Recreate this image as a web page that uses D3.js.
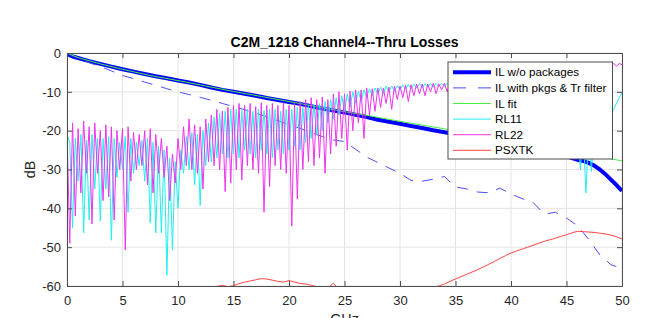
<!DOCTYPE html>
<html>
<head>
<meta charset="utf-8">
<script src="https://cdn.jsdelivr.net/npm/d3@7/dist/d3.min.js"></script>
<style>
body { margin: 0; background: #fff; }
svg { font-family: "Liberation Sans", Arial, Helvetica, sans-serif; }
</style>
</head>
<body>
<svg id="canvas" width="646" height="318"></svg>
<script>
// axis ticks
var xTicks = [0, 5, 10, 15, 20, 25, 30, 35, 40, 45, 50];
var yTicks = [-60, -50, -40, -30, -20, -10, 0];

// IL w/o packages (thick blue)
var ilFreq = [0, 0.25, 0.5, 1, 1.5, 2, 3, 4, 5, 6, 7, 8, 9, 10, 11, 12, 13, 14, 15, 16, 17, 18, 19, 20,
  21, 22, 23, 24, 25, 26, 27, 28, 29, 30, 31, 32, 33, 34, 35, 36, 37, 38, 39, 40, 41, 42, 43, 44, 45,
  46, 46.5, 47, 47.5, 48, 48.5, 49, 49.5, 50];
var ilVal = [0, -0.6, -0.9, -1.3, -1.7, -2.1, -2.8, -3.5, -4.2, -4.8, -5.4, -6.0, -6.5, -7.1, -7.6, -8.2, -8.9, -9.5, -10.0, -10.5, -11.0, -11.6, -12.1, -12.6,
  -13.1, -13.7, -14.3, -14.8, -15.3, -15.9, -16.5, -17.2, -17.7, -18.2, -18.8, -19.3, -19.9, -20.4, -20.9, -21.4, -21.9, -22.5, -23.0, -23.5, -24.1, -24.7, -25.3, -25.9, -26.6,
  -27.5, -27.8, -28.3, -29.0, -30.0, -31.2, -32.6, -34.0, -35.5];

// IL with pkgs & Tr filter (dashed)
var pkgFreq = [0, 0.5, 1, 1.5, 2, 3, 4, 5, 6, 7, 8, 9, 10, 11, 12, 13, 14, 15, 16, 17, 18, 19, 20, 21, 22, 23, 23.5,
  24, 25, 26, 27, 28, 29, 30, 31, 32, 33, 34, 35, 36, 37, 38, 39, 40, 41, 42, 43, 44, 45, 46, 47, 48, 49, 50];
var pkgVal = [0, -0.7, -1.3, -1.9, -2.5, -3.5, -4.6, -5.8, -6.6, -7.5, -8.3, -9.2, -10, -10.7, -11.4, -12.2, -13.0, -13.8, -14.6, -15.5, -16.4, -17.4, -18.5, -19.4, -20.5, -21.5, -22,
  -22.4, -22.8, -24.8, -26.8, -28.2, -29.6, -31, -32.8, -33, -32.5, -31.8, -34.5, -35, -35.8, -36, -34.8, -36.3, -37.5, -38.5, -41.5, -41, -42.5, -44.5, -48, -52, -54.5, -55.5];

// IL fit (green)
var fitFreq = [0, 1, 2, 3, 5, 7.5, 10, 12.5, 15, 17.5, 20, 22.5, 25, 27.5, 30, 32.5, 35, 37.5, 40, 42.5, 45, 47.5, 50];
var fitVal = [0, -1.2, -2.0, -2.8, -4.2, -5.8, -7.1, -8.5, -9.9, -11.2, -12.5, -13.8, -15.1, -16.3, -17.6, -18.8, -20.0, -21.2, -22.4, -23.6, -25.0, -26.4, -27.8];

// return losses, sampled every 0.25 GHz
var rlFreq = d3.range(0, 50.001, 0.25);
var rl11 = [
  -21, -23, -45, -22, -33, -21, -46.3, -22.5, -43, -21, -35, -22, -43.3, -22, -35, -21.5, -48.2, -22, -32, -23,
  -30, -21.5, -41, -22, -31, -23, -29, -22.5, -33, -22, -43.8, -23, -46.3, -24, -46.3, -25, -57.2, -27, -50.7, -28,
  -40, -25, -31, -21.5, -30, -20.5, -34, -21, -39.3, -20, -29, -18, -28, -16.5, -27, -15.5, -26, -15, -27, -14.5,
  -26, -14.5, -27, -14.8, -25, -14.5, -26, -15, -27, -14.5, -25, -14.8, -26, -14.5, -27, -14.5, -25, -15, -26, -14.5,
  -25, -14.5, -24, -14, -25, -14, -23, -13.5, -22, -13.5, -21, -13, -20, -12.5, -18, -12, -17, -11.5, -16, -11,
  -15, -10.5, -14, -10, -13, -9.8, -12.5, -9.5, -11.5, -9.2, -11, -9, -10.5, -8.8, -10.5, -8.6, -10, -8.5, -9.8, -8.4,
  -9.5, -8.2, -9.3, -8.1, -9.2, -8, -9, -7.9, -9, -7.9, -8.8, -7.8, -8.8, -7.8, -8.6, -7.8, -8.6, -7.8, -8.5, -7.8,
  -8.5, -7.8, -8.6, -7.9, -8.7, -8, -8.8, -8.1, -9, -8.2, -9.2, -8.4, -9.4, -8.6, -9.6, -8.8, -9.8, -9, -10, -9.2,
  -10.3, -9.5, -10.6, -9.8, -11, -10, -11.3, -10.3, -11.6, -10.6, -12, -11, -12.5, -11.3, -13, -11.8, -13.5, -12, -14, -12.5,
  -15, -13, -16, -22, -18, -30, -20, -36, -20, -30.5, -18, -16, -17, -15.5, -16.5, -15, -15.5, -14.5, -13, -11.5,
  -10.3];
var rl22 = [
  -20, -49, -18, -42, -19.5, -36, -17.5, -31, -19, -44, -18, -31, -20, -38, -18.5, -37, -19, -43, -20, -30,
  -19.5, -50.7, -19, -33, -20.5, -30, -21, -29, -20, -34, -19.5, -36, -21, -31, -22, -32, -24, -38, -26, -33.5,
  -22, -30, -19, -29, -17, -30, -18.5, -31, -19, -35, -17, -28, -16, -29, -14.5, -30, -15, -35.7, -14, -33.5,
  -13.5, -30, -13, -32.7, -13.5, -29, -13, -30, -13.8, -31, -12.8, -41, -13.5, -34.4, -13, -29, -13.5, -30, -12.8, -31,
  -13.5, -44.6, -13, -37.6, -12.5, -30, -12, -28, -11.5, -29, -12, -27, -11.3, -31, -12, -26, -10.5, -24, -10, -22,
  -10.5, -25, -9.8, -20, -9.5, -18, -9.5, -22, -9, -16, -9.2, -15, -9, -14, -9, -13, -8.8, -14.5, -8.5, -12,
  -8.5, -11.5, -8.3, -12.5, -8.2, -11, -8, -10.5, -8, -11, -8, -10, -7.8, -10.5, -8, -9.5, -7.8, -10, -7.5, -9.5,
  -7.5, -9, -7.3, -8.8, -7, -8.5, -7, -8.5, -6.8, -8.2, -6.6, -8, -6.5, -8, -6.3, -7.8, -6.2, -7.6, -6, -7.5,
  -5.8, -7.3, -5.7, -7.2, -5.5, -7, -5.4, -6.8, -5.2, -6.6, -5, -6.5, -4.9, -6.3, -4.8, -6.2, -4.6, -6, -4.5, -5.8,
  -4.4, -5.6, -4.2, -5.4, -4, -5.2, -3.9, -5, -3.8, -4.8, -3.6, -4.6, -3.5, -4.4, -3.3, -4, -3, -2.7, -3.4, -2.7,
  -3.0];

// PSXTK, sampled every 0.5 GHz (below -60 is off the axes)
var xtFreq = d3.range(0, 50.001, 0.5);
var xtVal = [
  -70, -68, -67, -66, -66, -65, -65, -64, -64, -64, -63.5, -63, -63, -62.8, -62.5, -62.5, -62, -62, -61.8, -61.5,
  -61.5, -61.2, -61, -61, -60.8, -60.5, -60.5, -60.1, -59.8, -60.2, -59.9, -59.4, -59, -58.7, -58.4, -58.1,
  -58.2, -58.5, -58.8, -59, -58.6, -59, -59.3, -59.5, -59.8, -60.2, -60.6, -60.5, -59.3, -60.8, -61, -61.3,
  -61.5, -61.8, -62, -62.2, -62.3, -62.3, -62.2, -62, -61.8, -61.6, -61.4, -61.2, -61, -60.7, -60.4, -60,
  -59.5, -58.8, -58.2, -57.6, -57, -56.4, -55.8, -55.1, -54.4, -53.7, -52.9, -52.2, -51.5, -51, -50.5, -50,
  -49.5, -49, -48.5, -48.1, -47.7, -47.2, -46.8, -46.3, -45.9, -46, -46.1, -46.2, -46.4, -46.6, -46.9, -47.3, -47.9];

var seriesNames = ["IL w/o packages", "IL with pkgs & Tr filter", "IL fit", "RL11", "RL22", "PSXTK"];
var seriesColors = ["#0000ff", "#4d4dff", "#44ee44", "#22eeee", "#ee33ee", "#ff4444"];

var svg = d3.select("#canvas"),
  width = +svg.attr("width"),
  height = +svg.attr("height");

var plotLeft = 67, plotRight = 622, plotTop = 53, plotBottom = 286;

var x = d3.scaleLinear().domain([0, 50]).range([plotLeft, plotRight]);
var y = d3.scaleLinear().domain([-60, 0]).range([plotBottom, plotTop]);

//grid
var grid = svg.append("g").attr("stroke", "#e4e4e4").attr("stroke-width", 1);
grid.selectAll(".gx").data(xTicks).enter().append("line")
  .attr("x1", function(d) { return x(d); }).attr("x2", function(d) { return x(d); })
  .attr("y1", plotTop).attr("y2", plotBottom);
grid.selectAll(".gy").data(yTicks).enter().append("line")
  .attr("y1", function(d) { return y(d); }).attr("y2", function(d) { return y(d); })
  .attr("x1", plotLeft).attr("x2", plotRight);

svg.append("clipPath").attr("id", "plotclip")
  .append("rect").attr("x", plotLeft).attr("y", plotTop)
  .attr("width", plotRight - plotLeft).attr("height", plotBottom - plotTop);

var plot = svg.append("g").attr("clip-path", "url(#plotclip)");

function zip(f, v) {
  return f.map(function(d, i) { return [d, v[i]]; });
}
var line = d3.line().x(function(d) { return x(d[0]); }).y(function(d) { return y(d[1]); });

var series = [
  { pts: zip(ilFreq, ilVal), w: 4, dash: null },
  { pts: zip(pkgFreq, pkgVal), w: 1, dash: "11,9" },
  { pts: zip(fitFreq, fitVal), w: 1, dash: null },
  { pts: zip(rlFreq, rl11), w: 1, dash: null },
  { pts: zip(rlFreq, rl22), w: 1, dash: null },
  { pts: zip(xtFreq, xtVal), w: 1, dash: null }
];

series.forEach(function(s, i) {
  plot.append("path")
    .datum(s.pts)
    .attr("fill", "none")
    .attr("stroke", seriesColors[i])
    .attr("stroke-width", s.w)
    .attr("stroke-dasharray", s.dash)
    .attr("stroke-linejoin", "round")
    .attr("d", line);
});

//axes (box with ticks on all four sides, pointing inward)
var fmt = function(d) { return String(d); };
var axisColor = "#4d4d4d";

var xAxis = svg.append("g").attr("transform", "translate(0," + plotBottom + ")")
  .call(d3.axisBottom(x).tickValues(xTicks).tickFormat(fmt).tickSizeInner(-5).tickSizeOuter(0).tickPadding(10));
var xTop = svg.append("g").attr("transform", "translate(0," + plotTop + ")")
  .call(d3.axisTop(x).tickValues(xTicks).tickFormat("").tickSizeInner(-5).tickSizeOuter(0));
var yAxis = svg.append("g").attr("transform", "translate(" + plotLeft + ",0)")
  .call(d3.axisLeft(y).tickValues(yTicks).tickFormat(fmt).tickSizeInner(-5).tickSizeOuter(0).tickPadding(6));
var yRight = svg.append("g").attr("transform", "translate(" + plotRight + ",0)")
  .call(d3.axisRight(y).tickValues(yTicks).tickFormat("").tickSizeInner(-5).tickSizeOuter(0));

[xAxis, xTop, yAxis, yRight].forEach(function(a) {
  a.select(".domain").attr("stroke", axisColor);
  a.selectAll(".tick line").attr("stroke", axisColor);
  a.selectAll(".tick text").attr("fill", "#262626").style("font-size", "13px")
    .style("font-family", "'Liberation Sans', Arial, Helvetica, sans-serif");
});

//title and labels
svg.append("text")
  .attr("x", (plotLeft + plotRight) / 2).attr("y", 47)
  .attr("text-anchor", "middle")
  .attr("font-weight", "bold").attr("font-size", 14).attr("fill", "#000")
  .text("C2M_1218 Channel4--Thru Losses");

svg.append("text")
  .attr("x", (plotLeft + plotRight) / 2).attr("y", 324)
  .attr("text-anchor", "middle")
  .attr("font-size", 14.3).attr("fill", "#262626")
  .text("GHz");

svg.append("text")
  .attr("transform", "translate(35," + ((plotTop + plotBottom) / 2) + ") rotate(-90)")
  .attr("text-anchor", "middle")
  .attr("font-size", 14.3).attr("fill", "#262626")
  .text("dB");

//legend
var legend = svg.append("g").attr("transform", "translate(448,62)");
legend.append("rect")
  .attr("width", 164.5).attr("height", 97)
  .attr("fill", "#fff").attr("stroke", axisColor).attr("stroke-width", 1);

var rows = legend.selectAll(".row").data(seriesNames).enter().append("g")
  .attr("transform", function(d, i) { return "translate(0," + (10.3 + i * 15.6) + ")"; });

rows.append("line")
  .attr("x1", 5).attr("x2", 43)
  .attr("stroke", function(d, i) { return seriesColors[i]; })
  .attr("stroke-width", function(d, i) { return series[i].w; })
  .attr("stroke-dasharray", function(d, i) { return series[i].dash ? "13,12" : null; });

rows.append("text")
  .attr("x", 47).attr("dy", "0.35em")
  .attr("font-size", 11.7).attr("fill", "#000")
  .text(function(d) { return d; });
</script>
</body>
</html>
